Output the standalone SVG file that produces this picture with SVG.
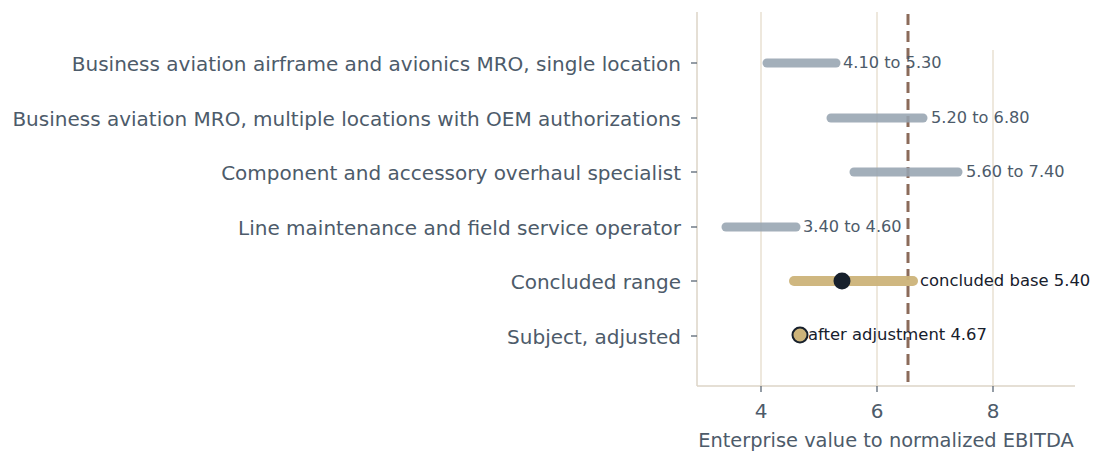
<svg xmlns="http://www.w3.org/2000/svg" width="1100" height="465" viewBox="0 0 1100 465">
<style>
.yl{font-family:"DejaVu Sans",sans-serif;font-size:20px;fill:#4d5b6a;text-anchor:end}
.tk{font-family:"DejaVu Sans",sans-serif;font-size:20px;fill:#4d5b6a;text-anchor:middle}
.bl{font-family:"DejaVu Sans",sans-serif;font-size:16.2px;fill:#4d5b6a}
.dl{font-family:"DejaVu Sans",sans-serif;font-size:16.4px;fill:#17202c}
.grid{stroke:#e8e0d2;stroke-width:1.5}
.bar{stroke:#97a4b1;stroke-width:9;stroke-linecap:round;opacity:0.88}
.tick{stroke:#4d5b6a;stroke-width:1.2}
</style>
<rect width="1100" height="465" fill="#fff"/>
<g id="grid">
<line class="grid" x1="761" y1="12" x2="761" y2="386"/>
<line class="grid" x1="877" y1="12" x2="877" y2="386"/>
<line class="grid" x1="993" y1="50" x2="993" y2="386"/>
</g>
<g id="axes">
<line x1="697" y1="12" x2="697" y2="386" stroke="#ddd5c7" stroke-width="1.5"/>
<line x1="697" y1="386" x2="1075" y2="386" stroke="#ddd5c7" stroke-width="1.5"/>
<line class="tick" x1="691" y1="63" x2="697" y2="63"/>
<line class="tick" x1="691" y1="118" x2="697" y2="118"/>
<line class="tick" x1="691" y1="172" x2="697" y2="172"/>
<line class="tick" x1="691" y1="227" x2="697" y2="227"/>
<line class="tick" x1="691" y1="281" x2="697" y2="281"/>
<line class="tick" x1="691" y1="336" x2="697" y2="336"/>
<line class="tick" x1="761" y1="386" x2="761" y2="392"/>
<line class="tick" x1="877" y1="386" x2="877" y2="392"/>
<line class="tick" x1="993" y1="386" x2="993" y2="392"/>
<text class="tk" x="761" y="418">4</text>
<text class="tk" x="877" y="418">6</text>
<text class="tk" x="993" y="418">8</text>
<text class="tk" x="886" y="447" style="font-size:19.4px">Enterprise value to normalized EBITDA</text>
<text class="yl" x="681" y="71">Business aviation airframe and avionics MRO, single location</text>
<text class="yl" x="681" y="126">Business aviation MRO, multiple locations with OEM authorizations</text>
<text class="yl" x="681" y="180">Component and accessory overhaul specialist</text>
<text class="yl" x="681" y="235">Line maintenance and field service operator</text>
<text class="yl" x="681" y="289">Concluded range</text>
<text class="yl" x="681" y="344">Subject, adjusted</text>
</g>
<g id="ref-line"><line x1="908" y1="14" x2="908" y2="386" stroke="#8b6b5a" stroke-width="3" stroke-dasharray="11,6"/></g>
<g id="connectors">
<line class="bar" x1="767" y1="63" x2="836" y2="63"/>
<line class="bar" x1="831" y1="118" x2="923" y2="118"/>
<line class="bar" x1="854" y1="172" x2="958" y2="172"/>
<line class="bar" x1="726" y1="227" x2="796" y2="227"/>
<line x1="794" y1="281" x2="913" y2="281" stroke="#cdb47a" stroke-width="10" stroke-linecap="round" opacity="0.95"/>
</g>
<g id="n1"><text class="bl" x="843" y="68">4.10 to 5.30</text></g>
<g id="n2"><text class="bl" x="931" y="123">5.20 to 6.80</text></g>
<g id="n3"><text class="bl" x="966" y="177">5.60 to 7.40</text></g>
<g id="n4"><text class="bl" x="803" y="232">3.40 to 4.60</text></g>
<g id="n5"><circle cx="842" cy="281" r="8.5" fill="#17202c"/><text class="dl" x="920" y="286">concluded base 5.40</text></g>
<g id="n6"><circle cx="800" cy="335" r="7.5" fill="#cdb47a" stroke="#17202c" stroke-width="2"/><text class="dl" x="808" y="340">after adjustment 4.67</text></g>
</svg>
